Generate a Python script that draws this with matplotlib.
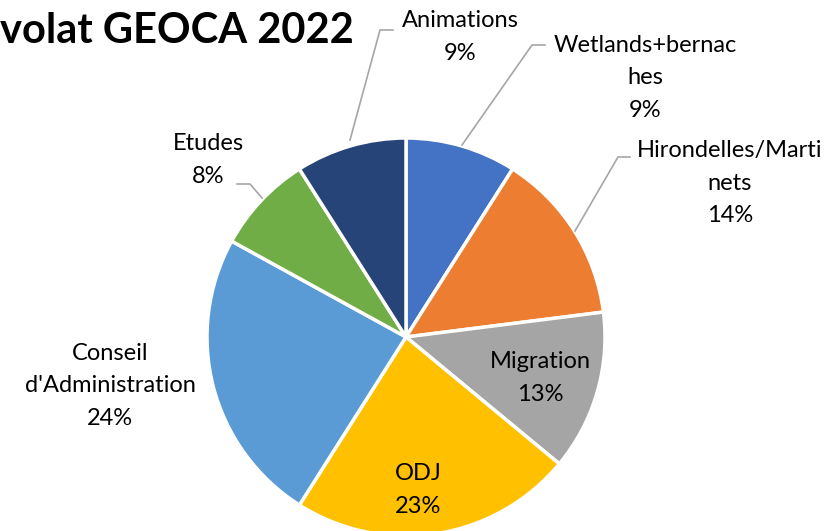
import matplotlib.pyplot as plt

# data
labels = ['Wetlands+bernaches', 'Hirondelles/Martinets', 'Migration', 'ODJ',
          "Conseil d'Administration", 'Etudes', 'Animations']
shown = ['Wetlands+bernac\nhes', 'Hirondelles/Marti\nnets', 'Migration', 'ODJ',
         "Conseil\nd'Administration", 'Etudes', 'Animations']
values = [9, 14, 13, 23, 24, 8, 9]
colors = ['#4472C4', '#ED7D31', '#A5A5A5', '#FFC000', '#5B9BD5', '#70AD47', '#264478']
title = 'volat GEOCA 2022'

plt.rcParams['font.family'] = ['Lato', 'DejaVu Sans']

W, H = 833, 531
fig = plt.figure(figsize=(W / 100, H / 100), dpi=100)
ax = fig.add_axes([0, 0, 1, 1])

cx, cy, r = 406, H - 337, 199
ax.pie(values, colors=colors, startangle=90, counterclock=False,
       center=(cx, cy), radius=r, frame=True,
       wedgeprops=dict(edgecolor='white', linewidth=2.5))
ax.set_xlim(0, W)
ax.set_ylim(0, H)
ax.set_aspect('equal')
ax.axis('off')

# label positions (pixel coords from top) and leader lines
pos = [(645, 78), (730, 183), (540, 378), (418, 490), (110, 386), (208, 160), (460, 37)]
leaders = {
    0: [(462, 145), (532, 45), (545, 45)],
    1: [(575, 231), (618, 157), (630, 157)],
    5: [(262, 198), (250, 184), (237, 184)],
    6: [(350, 140), (380, 30), (393, 30)],
}
for i, (lab, v) in enumerate(zip(shown, values)):
    x, y = pos[i]
    ax.text(x, H - y, f'{lab}\n{v}%', ha='center', va='center', fontsize=17,
            linespacing=1.65, color='#000000')
for i, pts in leaders.items():
    ax.plot([p[0] for p in pts], [H - p[1] for p in pts], color='#A6A6A6', lw=1.2)

ax.text(0, H - 43, title, ha='left', va='baseline', fontsize=30, fontweight='bold')

fig.savefig('out.png', dpi=100)
